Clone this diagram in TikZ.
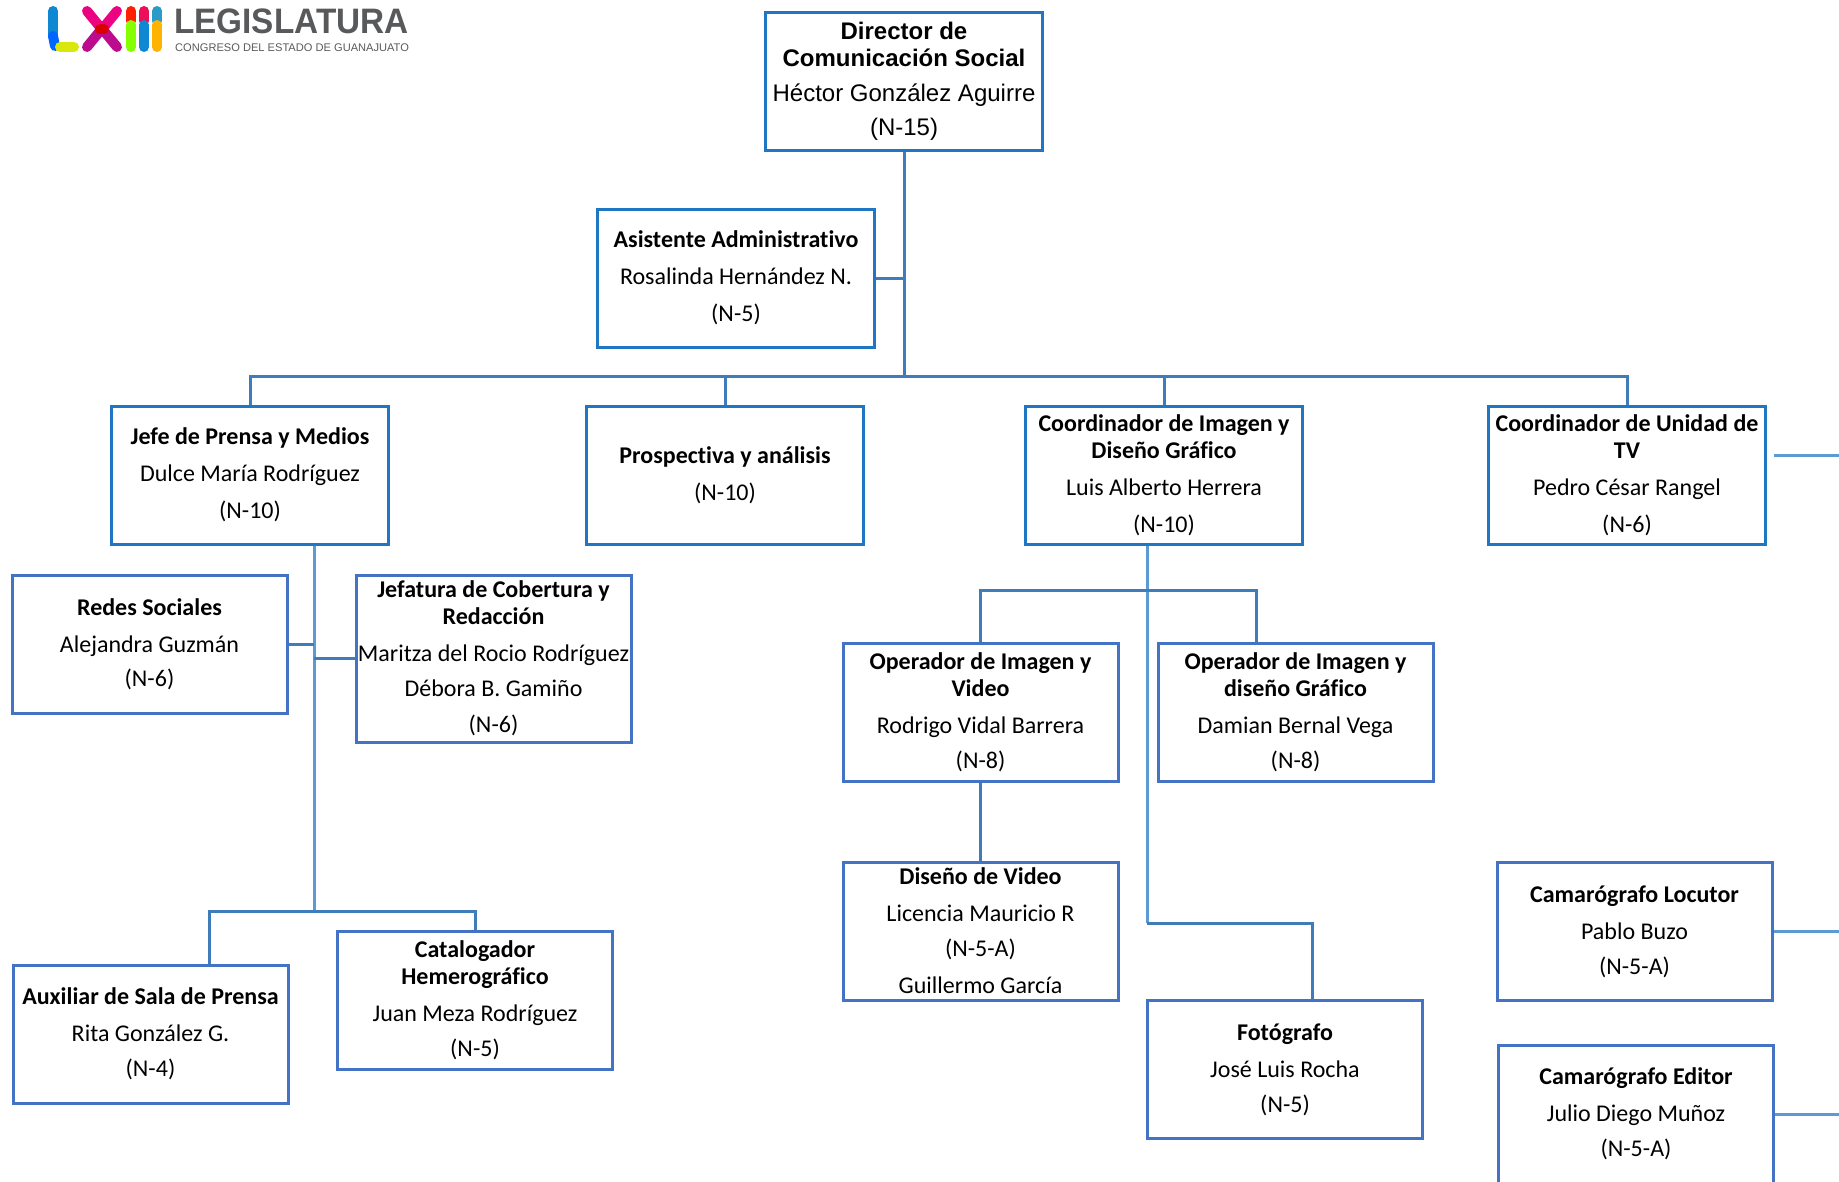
\documentclass[tikz,border=0pt]{standalone}
\usepackage{fontspec}
\usepackage{tikz}
\usetikzlibrary{positioning}
\setmainfont{Carlito}[Ligatures=NoCommon]
\newfontfamily\arialfont{Liberation Sans}
\definecolor{cajaazul}{HTML}{1F77C4}
\definecolor{cajasub}{HTML}{4472C4}
\definecolor{lineaoscura}{HTML}{3F7CBA}
\definecolor{lineaclara}{HTML}{5B9BD5}
\definecolor{logogris}{HTML}{58595B}
\begin{document}
\begin{tikzpicture}[x=1pt, y=-1pt, node distance={56pt},
        main/.style = {draw=cajaazul, line width=3pt, minimum width=277pt, minimum height=138pt, inner sep=0pt, align=center, font=\fontsize{24}{27}\selectfont},
        sub/.style = {main, draw=cajasub, minimum width=275pt},
        oscura/.style = {draw=lineaoscura, line width=3pt},
        clara/.style = {draw=lineaclara, line width=3pt},
        barra/.style = {line width=10pt, line cap=round}]
        \useasboundingbox (0,0) rectangle (1839,1181);

        \node[main, font=\arialfont\fontsize{24}{27}\selectfont] (director) at (904,81) {\textbf{Director de}\\\textbf{Comunicación Social}\\[8pt]Héctor González Aguirre\\[7pt](N-15)};
        \node[main] (asistente) [below=of director, xshift=-168pt] {\textbf{Asistente Administrativo}\\[10pt]Rosalinda Hernández N.\\[10pt](N-5)};
        \node[main] (jefe) [below=of asistente, xshift=-486pt] {\textbf{Jefe de Prensa y Medios}\\[10pt]Dulce María Rodríguez\\[10pt](N-10)};
        \node[main] (prospectiva) [below=of asistente, xshift=-11pt] {\textbf{Prospectiva y análisis}\\[10pt](N-10)};
        \node[main] (coordimagen) [below=of asistente, xshift=428pt] {\textbf{Coordinador de Imagen y}\\\textbf{Diseño Gráfico}\\[10pt]Luis Alberto Herrera\\[10pt](N-10)};
        \node[main] (coordtv) [below=of asistente, xshift=891pt] {\textbf{Coordinador de Unidad de}\\\textbf{TV}\\[10pt]Pedro César Rangel\\[10pt](N-6)};

        \node[sub] (redes) [below=28pt of jefe, xshift=-100.5pt] {\textbf{Redes Sociales}\\[10pt]Alejandra Guzmán\\[7pt](N-6)};
        \node[sub, minimum height=167pt] (jefatura) [below=28pt of jefe, xshift=243.5pt] {\textbf{Jefatura de Cobertura y}\\\textbf{Redacción}\\[10pt]Maritza del Rocio Rodríguez\\[8pt]Débora B. Gamiño\\[9pt](N-6)};
        \node[sub] (auxiliar) at (150.5,1034) {\textbf{Auxiliar de Sala de Prensa}\\[10pt]Rita González G.\\[8pt](N-4)};
        \node[sub] (catalogador) at (475,1000) {\textbf{Catalogador}\\\textbf{Hemerográfico}\\[10pt]Juan Meza Rodríguez\\[8pt](N-5)};

        \node[sub] (opvideo) [below=96.5pt of coordimagen, xshift=-183.5pt] {\textbf{Operador de Imagen y}\\\textbf{Video}\\[10pt]Rodrigo Vidal Barrera\\[8pt](N-8)};
        \node[sub] (opdiseno) [right=37pt of opvideo] {\textbf{Operador de Imagen y}\\\textbf{diseño Gráfico}\\[10pt]Damian Bernal Vega\\[8pt](N-8)};
        \node[sub] (disenovideo) [below=77.5pt of opvideo] {\textbf{Diseño de Video}\\[10pt]Licencia Mauricio R\\[8pt](N-5-A)\\[10pt]Guillermo García};
        \node[sub] (fotografo) at (1285,1069.5) {\textbf{Fotógrafo}\\[10pt]José Luis Rocha\\[8pt](N-5)};
        \node[sub] (locutor) at (1634.5,931.5) {\textbf{Camarógrafo Locutor}\\[10pt]Pablo Buzo\\[8pt](N-5-A)};
        \node[sub] (editor) at (1636,1114) {\textbf{Camarógrafo Editor}\\[10pt]Julio Diego Muñoz\\[8pt](N-5-A)};

        \coordinate (busmain) at (904,376);
        \coordinate (busjefe) at (314,911);
        \coordinate (dropaux) at (209,911);
        \coordinate (busimagen) at (1147,590);
        \coordinate (dropdiseno) at (1256,590);
        \coordinate (busfoto) at (1147,923);
        \coordinate (dropfoto) at (1312,923);
        \coordinate (stubtv) at (1839,455);
        \coordinate (stubborde) at (1839,931);

        \draw[oscura] (director) -- (busmain);
        \draw[oscura] (asistente) -- (asistente -| busmain);
        \draw[oscura] (jefe) |- (busmain);
        \draw[oscura] (prospectiva) |- (busmain);
        \draw[oscura] (coordimagen) |- (busmain);
        \draw[oscura] (coordtv) |- (busmain);

        \draw[clara] (jefe.south -| busjefe) -- (busjefe);
        \draw[oscura] (redes) -- (redes -| busjefe);
        \draw[oscura] (jefatura) -- (jefatura -| busjefe);
        \draw[oscura] (catalogador) |- (dropaux) -- (dropaux |- auxiliar.north);

        \draw[clara] (coordimagen.south -| busimagen) -- (busfoto);
        \draw[oscura] (opvideo) |- (busimagen);
        \draw[oscura] (busimagen) -- (dropdiseno) -- (dropdiseno |- opdiseno.north);
        \draw[oscura] (opvideo) -- (disenovideo);
        \draw[oscura] (busfoto) -- (dropfoto) -- (dropfoto |- fotografo.north);

        \draw[clara] ([xshift=7pt]coordtv.east |- stubtv) -- (stubtv);
        \draw[clara] (locutor) -- (locutor -| stubborde);
        \draw[clara] (editor) -- (editor -| stubborde);

        \draw[barra, color=cyan!70!blue] (53,11) -- (53,36);
        \draw[barra, color=blue!60!cyan] (53,36) -- (55,46);
        \draw[barra, color=yellow!85!green] (60,47) -- (74,47);
        \draw[barra, color=magenta!90!red] (87,11) -- (100,27);
        \draw[barra, color=magenta!75!blue] (100,31) -- (87,47);
        \draw[barra, color=magenta!90!red] (117,11) -- (104,27);
        \draw[barra, color=magenta!75!blue] (104,31) -- (117,47);
        \draw[barra, color=red!85!black] (100,29) -- (104,29);
        \draw[barra, color=red!75!orange] (131,11) -- (131,21);
        \draw[barra, color=lime!70!green] (131,25) -- (131,47);
        \draw[barra, color=magenta!50!red] (144,11) -- (144,21);
        \draw[barra, color=cyan!70!blue] (144,25) -- (144,47);
        \draw[barra, color=cyan!60!teal] (157,11) -- (157,21);
        \draw[barra, color=orange!60!yellow] (157,25) -- (157,47);
        \node[anchor=base west, inner sep=0pt, text=logogris, font=\arialfont\bfseries\fontsize{34}{34}\selectfont] (legislatura) at (174,33) {\scalebox{0.98}[1.04]{LEGISLATURA}};
        \node[anchor=base west, inner sep=0pt, text=logogris, font=\arialfont\fontsize{11.1}{12}\selectfont] (congreso) at (175,51) {CONGRESO DEL ESTADO DE GUANAJUATO};
    \end{tikzpicture}
\end{document}
